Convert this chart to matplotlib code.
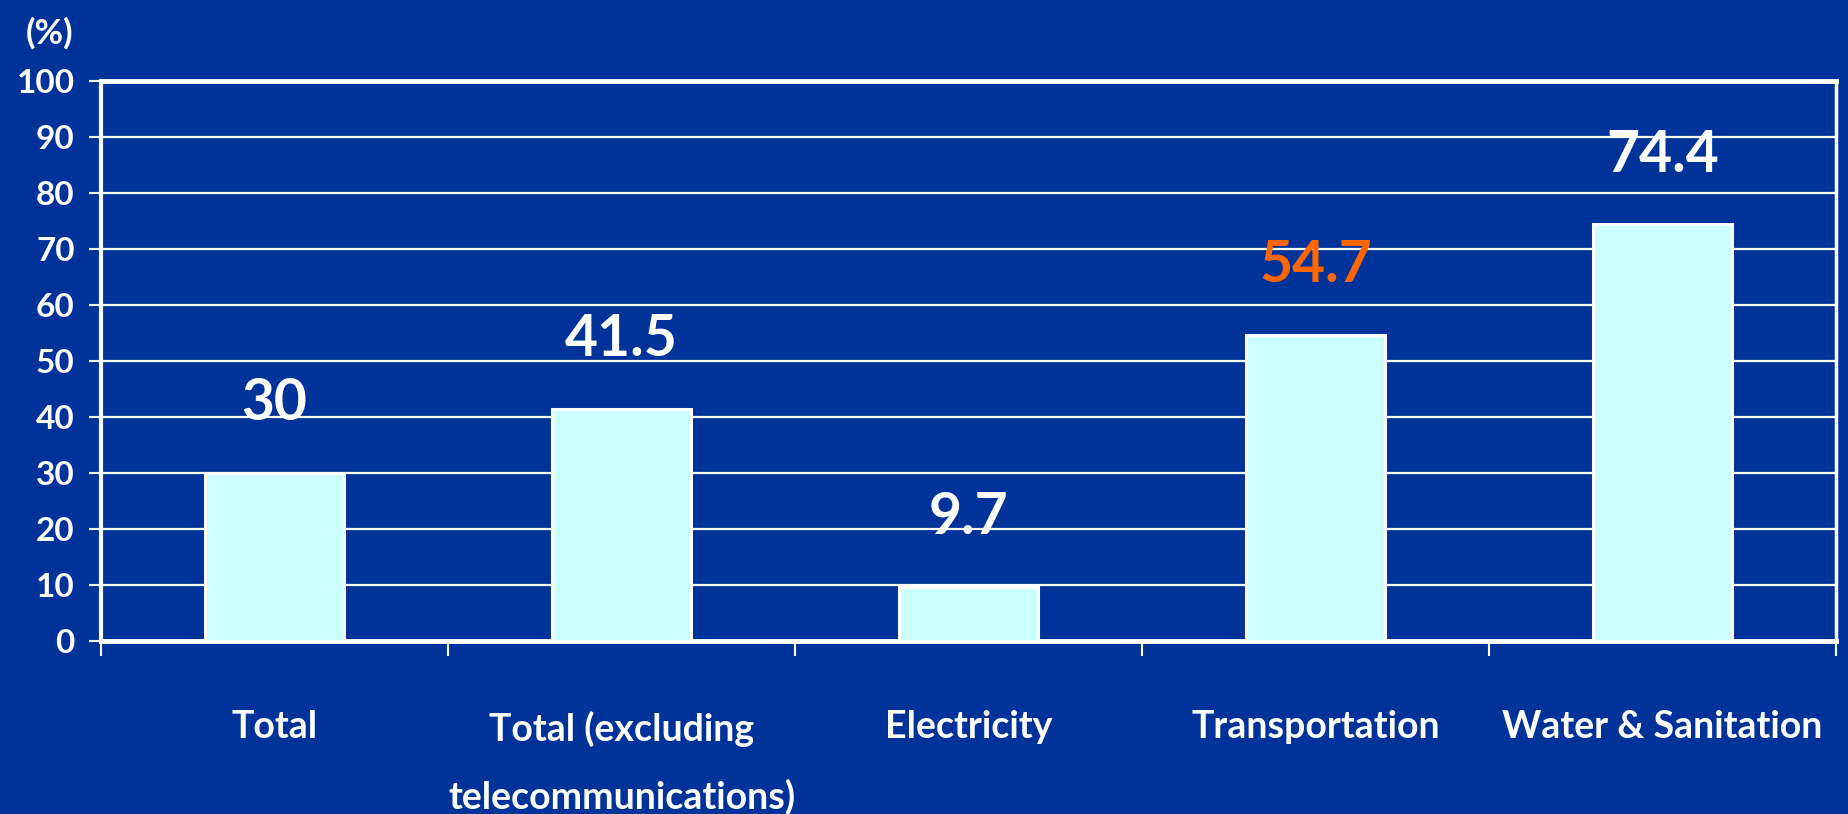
import matplotlib
matplotlib.use("Agg")
import matplotlib.pyplot as plt
from matplotlib.ticker import FixedLocator

categories = ["Total", "Total (excluding\ntelecommunications)", "Electricity",
              "Transportation", "Water & Sanitation"]
values = [30, 41.5, 9.7, 54.7, 74.4]
value_labels = ["30", "41.5", "9.7", "54.7", "74.4"]
label_colors = ["white", "white", "white", "#FF6600", "white"]
yticks = [0, 10, 20, 30, 40, 50, 60, 70, 80, 90, 100]

BG = "#003399"
BAR = "#CCFFFF"
FONT = ["Lato", "DejaVu Sans"]

fig = plt.figure(figsize=(18.48, 8.14), dpi=100, facecolor=BG)
ax = fig.add_axes([0.0547, 0.2125, 0.9388, 0.688])
ax.set_facecolor(BG)

x = list(range(len(categories)))
ax.bar(x, values, width=0.4, color=BAR, edgecolor="white", linewidth=2.2, zorder=3)

ax.set_xlim(-0.5, len(categories) - 0.5)
ax.set_ylim(0, 100)
ax.set_yticks(yticks)
ax.set_yticklabels([str(t) for t in yticks], fontsize=24, fontweight="bold",
                   color="white", family=FONT)
ax.yaxis.grid(True, color="white", linewidth=1.6, zorder=1)
ax.set_axisbelow(True)

ax.set_xticks(x)
ax.set_xticklabels(categories, fontsize=27, fontweight="bold", color="white",
                   family=FONT, linespacing=2.08)
ax.tick_params(axis="x", which="major", length=0, pad=50)
ax.xaxis.set_minor_locator(FixedLocator([i - 0.5 for i in range(len(categories) + 1)]))
ax.tick_params(axis="x", which="minor", length=11, width=1.5, color="white", direction="out")
ax.tick_params(axis="y", which="major", length=9, width=1.5, color="white", pad=10)

for side, lw in [("left", 3.0), ("bottom", 3.5), ("top", 3.5), ("right", 2.5)]:
    ax.spines[side].set_color("white")
    ax.spines[side].set_linewidth(lw)

for xi, v, lab, c in zip(x, values, value_labels, label_colors):
    ax.annotate(lab, xy=(xi, v), xytext=(0, 38), textcoords="offset points",
                ha="center", va="baseline", fontsize=41, fontweight="bold",
                color=c, family=FONT, zorder=4)

fig.text(50 / 1848, 1 - 33 / 814, "(%)", ha="center", va="center", fontsize=25,
         fontweight="bold", color="white", family=FONT)

fig.savefig("out.png", dpi=100, facecolor=BG)
